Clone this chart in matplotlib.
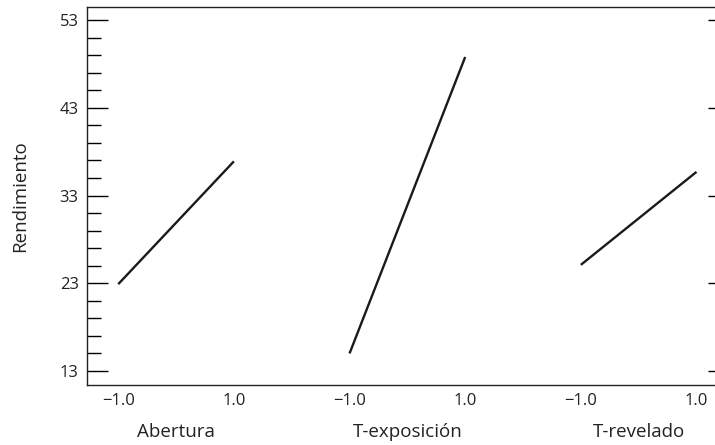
import numpy as np
import matplotlib.pyplot as plt
from matplotlib.ticker import MultipleLocator
import matplotlib.transforms as mtransforms

plt.rcParams['font.family'] = ['Open Sans', 'DejaVu Sans']

# factors and their mean response at the low / high level
factors = ["Abertura", "T-exposición", "T-revelado"]
levels = ["\u22121.0", "1.0"]
means_low = [22.9, 15.0, 25.1]
means_high = [36.9, 48.8, 35.7]

fig = plt.figure(figsize=(7.15, 4.45), dpi=100)
ax = fig.add_axes([0.1217, 0.1348, 0.8783, 0.8495])

for i, name in enumerate(factors):
    xs = [2 * i, 2 * i + 1]
    ax.plot(xs, [means_low[i], means_high[i]], color="#1a1a1a", lw=1.7,
            solid_capstyle="butt")

ax.set_xlim(-0.27, 5.16)
ax.set_ylim(11.4, 54.5)

# x axis: level labels, no tick marks
ax.set_xticks(np.arange(2 * len(factors)))
ax.set_xticklabels(levels * len(factors), fontsize=12, color="#222222")
ax.tick_params(axis="x", length=0, pad=6)

# group names under each pair of levels
trans = mtransforms.blended_transform_factory(ax.transData, ax.transAxes)
for i, name in enumerate(factors):
    ax.text(2 * i + 0.5, -0.124, name, transform=trans, ha="center", va="center",
            fontsize=13.5, color="#222222")

# y axis: inward ticks, minor ticks on the odd values in between
ax.set_yticks([13, 23, 33, 43, 53])
ax.yaxis.set_minor_locator(MultipleLocator(2, offset=1))
ax.tick_params(axis="y", which="major", direction="in", length=15, width=1,
               labelsize=12, labelcolor="#222222", right=True, pad=6)
ax.tick_params(axis="y", which="minor", direction="in", length=10, width=1,
               right=False)
ax.spines["right"].set_visible(False)
for s in ["left", "top", "bottom"]:
    ax.spines[s].set_linewidth(1.0)
    ax.spines[s].set_color("#222222")

# shorter ticks on the right edge
for t in ax.yaxis.get_major_ticks():
    t.tick2line.set_markersize(5)

ax.set_ylabel("Rendimiento", fontsize=13.5, color="#222222", labelpad=22)

fig.savefig("out.png", dpi=100)
